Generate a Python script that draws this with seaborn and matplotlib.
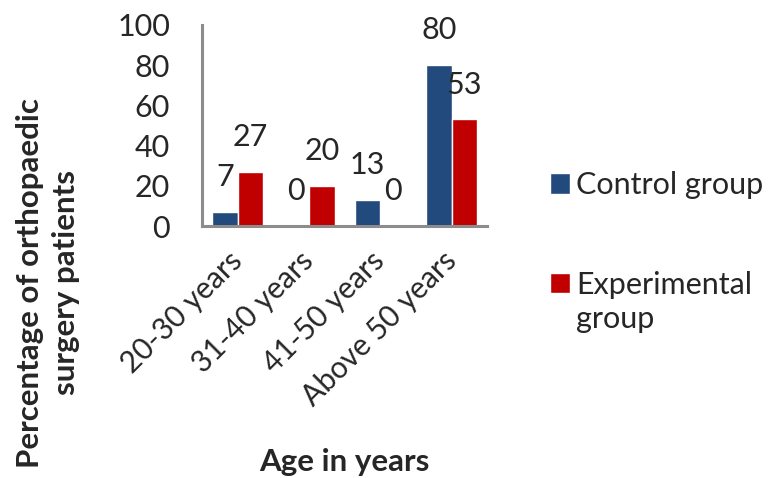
import matplotlib
matplotlib.use("Agg")
import matplotlib.pyplot as plt
import seaborn as sns
import pandas as pd

categories = ["20-30 years", "31-40 years", "41-50 years", "Above 50 years"]
control = [7, 0, 13, 80]
experimental = [27, 20, 0, 53]
series_names = ["Control group", "Experimental group"]
legend_labels = ["Control group", "Experimental"]
legend_extra = "group"
colors = ["#234A7C", "#C00000"]

df = pd.DataFrame({
    "Age": categories * 2,
    "Value": control + experimental,
    "Group": [series_names[0]] * 4 + [series_names[1]] * 4,
})

sns.set_theme(style="white")
plt.rcParams["font.family"] = ["Lato", "DejaVu Sans"]

fig = plt.figure(figsize=(7.71, 4.78), dpi=100)
ax = fig.add_axes([0.262, 0.527, 0.370, 0.421])

sns.barplot(data=df, x="Age", y="Value", hue="Group", palette=colors,
            width=0.72, saturation=1, ax=ax, legend=True)

ax.set_ylim(0, 100)
ax.set_xlim(-0.5, 3.5)
ax.set_yticks([0, 20, 40, 60, 80, 100])
ax.tick_params(axis="y", length=0, pad=23, labelsize=22)
ax.tick_params(axis="x", length=0, pad=22, labelsize=21.5)
plt.setp(ax.get_xticklabels(), rotation=45, ha="right", va="center",
         rotation_mode="anchor")

for c in ax.containers:
    ax.bar_label(c, labels=[f"{v:.0f}" for v in c.datavalues], padding=15, fontsize=22)

for s in ["top", "right"]:
    ax.spines[s].set_visible(False)
for s in ["left", "bottom"]:
    ax.spines[s].set_color("#8C8C8C")
    ax.spines[s].set_linewidth(2.2)

ax.set_xlabel("")
ax.set_ylabel("")
fig.text(0.447, 0.034, "Age in years", ha="center", va="center",
         fontsize=22.5, fontweight="bold")
fig.text(0.062, 0.408, "Percentage of orthopaedic\nsurgery patients", ha="center",
         va="center", rotation=90, fontsize=22.5, fontweight="bold", linespacing=1.35)

handles, _ = ax.get_legend_handles_labels()
leg = ax.legend(handles, legend_labels, loc="upper left", bbox_to_anchor=(0.714, 0.642),
                bbox_transform=fig.transFigure, frameon=False, fontsize=22,
                handlelength=0.65, handleheight=0.65, handletextpad=0.2,
                labelspacing=2.35, borderaxespad=0, borderpad=0)

fig.canvas.draw()
t = leg.get_texts()[1]
bb = t.get_window_extent().transformed(fig.transFigure.inverted())
fig.text(bb.x0, bb.y0 - 0.012, legend_extra, ha="left", va="top", fontsize=22)

fig.savefig("out.png", dpi=100)
